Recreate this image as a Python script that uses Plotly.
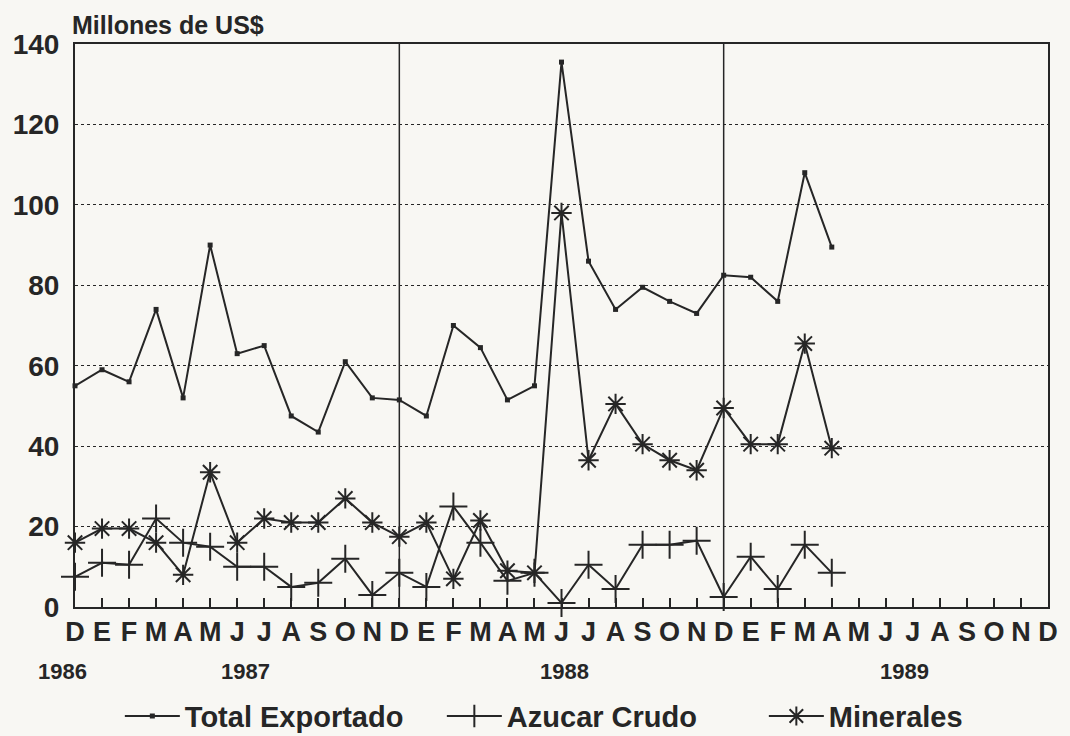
import plotly.graph_objects as go

# ---- data ----
month_labels = ["D",
                "E", "F", "M", "A", "M", "J", "J", "A", "S", "O", "N", "D",
                "E", "F", "M", "A", "M", "J", "J", "A", "S", "O", "N", "D",
                "E", "F", "M", "A", "M", "J", "J", "A", "S", "O", "N", "D"]
year_labels = ["1986", "1987", "1988", "1989"]

total_exportado = [55, 59, 56, 74, 52, 90, 63, 65, 47.5, 43.5, 61, 52, 51.5,
                   47.5, 70, 64.5, 51.5, 55, 135.5, 86, 74, 79.5, 76, 73, 82.5,
                   82, 76, 108, 89.5]
azucar_crudo = [7.5, 11, 10.5, 22, 16, 15, 10, 10, 5, 6, 12, 3, 8.5,
                5, 25, 16, 6.5, 8.5, 1, 10.5, 4.5, 15.5, 15.5, 16.5, 2.5,
                12.5, 4.5, 15.5, 8.5]
minerales = [16, 19.5, 19.5, 16, 8, 33.5, 16, 22, 21, 21, 27, 21, 17.5,
             21, 7, 21.5, 9, 8.5, 98, 36.5, 50.5, 40.5, 36.5, 34, 49.5,
             40.5, 40.5, 65.5, 39.5]

y_ticks = [0, 20, 40, 60, 80, 100, 120, 140]

# ---- style ----
INK = "#262626"
BG = "#f8f7f3"
FONT = "Liberation Sans"

x_all = list(range(len(month_labels)))
x_data = x_all[:len(total_exportado)]

fig = go.Figure()
fig.add_trace(go.Scatter(
    x=x_data, y=total_exportado, name="Total Exportado", mode="lines+markers",
    line=dict(color=INK, width=2),
    marker=dict(symbol="square", size=5, color=INK),
    cliponaxis=False))
fig.add_trace(go.Scatter(
    x=x_data, y=azucar_crudo, name="Azucar Crudo", mode="lines+markers",
    line=dict(color=INK, width=2),
    marker=dict(symbol="cross-thin-open", size=20, color=INK,
                line=dict(color=INK, width=2)),
    cliponaxis=False))
fig.add_trace(go.Scatter(
    x=x_data, y=minerales, name="Minerales", mode="lines+markers",
    line=dict(color=INK, width=2),
    marker=dict(symbol="asterisk-open", size=17, color=INK,
                line=dict(color=INK, width=2)),
    cliponaxis=False))

# year separators at the December that closes each inner year
sep_idx = [i for i, m in enumerate(month_labels) if m == "D" and 0 < i < len(month_labels) - 1]
shapes = [dict(type="line", xref="x", yref="paper", x0=i, x1=i, y0=0, y1=1,
               line=dict(color=INK, width=1.5), layer="above") for i in sep_idx]

# year labels below the month letters
year_pos = [0, 6.3, 18.1, 30.7]
year_shift = [-13, 0, 0, 0]
annotations = [dict(x=p, y=-0.115, xref="x", yref="paper", text=t, showarrow=False,
                    xshift=s,
                    font=dict(family=FONT, size=22, color=INK, weight="bold"),
                    xanchor="center", yanchor="middle")
               for p, t, s in zip(year_pos, year_labels, year_shift)]
annotations.append(dict(x=-0.005, y=1.0, xref="paper", yref="paper",
                        text="Millones de US$", showarrow=False,
                        font=dict(family=FONT, size=25, color=INK, weight="bold"),
                        xanchor="left", yanchor="bottom", yshift=3))

fig.update_layout(
    width=1070, height=736,
    margin=dict(l=75, r=22, t=44, b=129),
    paper_bgcolor=BG, plot_bgcolor=BG,
    showlegend=True,
    legend=dict(orientation="h", xref="container", yref="container",
                x=0.112, xanchor="left", y=0.027, yanchor="middle",
                font=dict(family=FONT, size=29, color=INK, weight="bold"),
                bgcolor="rgba(0,0,0,0)", itemwidth=55,
                entrywidth=252, entrywidthmode="pixels"),
    shapes=shapes,
    annotations=annotations,
    xaxis=dict(range=[0, len(month_labels) - 1], tickmode="array", tickvals=x_all,
               ticktext=month_labels, ticks="inside", ticklen=9, tickwidth=1.5,
               tickcolor=INK, showgrid=False, zeroline=False,
               showline=True, linecolor=INK, linewidth=2, mirror=True,
               tickfont=dict(family=FONT, size=27, color=INK, weight="bold")),
    yaxis=dict(range=[0, 140], tickmode="array", tickvals=y_ticks,
               showgrid=True, gridcolor=INK, gridwidth=1.2, griddash="dot",
               zeroline=False, showline=True, linecolor=INK, linewidth=2, mirror=True,
               ticks="", ticklabelstandoff=8,
               tickfont=dict(family=FONT, size=28, color=INK, weight="bold")),
)

fig.write_html("out.html", config={"displayModeBar": False},
               post_script="document.body.style.margin='0';document.body.style.background='%s';" % BG)
